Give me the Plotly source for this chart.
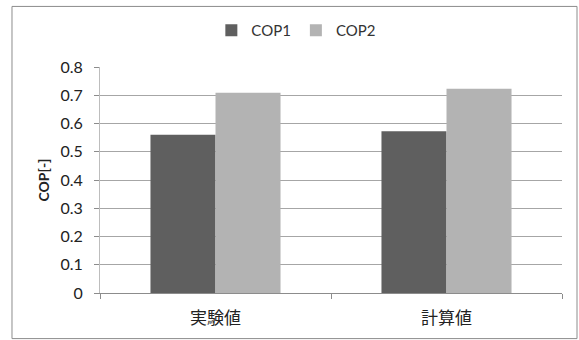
import plotly.graph_objects as go

categories = ["実験値", "計算値"]
cop1 = [0.56, 0.573]
cop2 = [0.709, 0.723]
ytick_vals = [0, 0.1, 0.2, 0.3, 0.4, 0.5, 0.6, 0.7, 0.8]
ytick_text = ["0", "0.1", "0.2", "0.3", "0.4", "0.5", "0.6", "0.7", "0.8"]
grid_vals = [0.1, 0.2, 0.3, 0.4, 0.5, 0.6, 0.7]

FONT = "Lato, 'Noto Sans CJK JP', sans-serif"

fig = go.Figure()
fig.add_trace(go.Bar(name="COP1", x=categories, y=cop1, marker=dict(color="#5f5f5f", line=dict(width=0))))
fig.add_trace(go.Bar(name="COP2", x=categories, y=cop2, marker=dict(color="#b3b3b3", line=dict(width=0))))
# invisible trace for grid axis
fig.add_trace(go.Scatter(x=categories, y=[0, 0], yaxis="y2", mode="markers",
                         marker=dict(opacity=0), showlegend=False, hoverinfo="skip"))

fig.update_layout(
    width=579, height=340,
    margin=dict(l=100, r=17, t=67, b=47),
    paper_bgcolor="white", plot_bgcolor="rgba(0,0,0,0)",
    barmode="group", bargap=0.437, bargroupgap=0,
    font=dict(family=FONT, color="#222222"),
    legend=dict(orientation="h", x=0.425, xanchor="center", y=1.162, yanchor="middle",
                font=dict(size=15, color="#333333"), itemwidth=30, traceorder="normal",
                bgcolor="rgba(0,0,0,0)", tracegroupgap=0),
    xaxis=dict(
        showline=True, linecolor="#8c8c8c", linewidth=1,
        ticks="outside", ticklen=5, tickcolor="#8c8c8c",
        tickson="boundaries", ticklabelstandoff=10,
        tickfont=dict(size=17, family="'Noto Sans CJK JP', sans-serif", color="#222222"),
        showgrid=False,
    ),
    yaxis=dict(
        range=[0, 0.8], tickvals=ytick_vals, ticktext=ytick_text,
        showline=True, linecolor="#bdbdbd", linewidth=1,
        ticks="outside", ticklen=5, tickcolor="#8c8c8c",
        showgrid=False, zeroline=False, ticklabelstandoff=8,
        tickfont=dict(size=16, color="#222222"),
        title=dict(text="<b>COP[-]</b>", font=dict(size=14, color="#222222"), standoff=7),
    ),
    yaxis2=dict(
        range=[0, 0.8], overlaying="y", side="left", tickvals=grid_vals,
        showticklabels=False, showgrid=True, gridcolor="#a6a6a6", gridwidth=1,
        zeroline=False, showline=False, ticks="",
    ),
    shapes=[dict(type="rect", xref="paper", yref="paper",
                 x0=-0.1905, x1=1.0325, y0=-0.2018, y1=1.268,
                 line=dict(color="#8c8c8c", width=1), fillcolor="rgba(0,0,0,0)",
                 layer="below")],
)

fig.write_html("out.html")
